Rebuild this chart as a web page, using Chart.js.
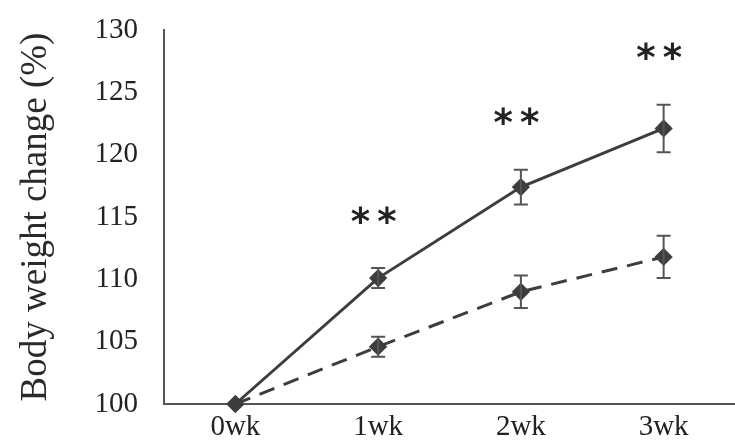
<!DOCTYPE html>
<html>
<head>
<meta charset="utf-8">
<script src="https://cdn.jsdelivr.net/npm/chart.js@4/dist/chart.umd.min.js"></script>
<style>
  html, body { margin: 0; padding: 0; background: #fff; }
  #wrap { width: 735px; height: 448px; }
</style>
</head>
<body>
<div id="wrap"><canvas id="c" width="735" height="448"></canvas></div>
<script>
// Weeks of observation
const weeks = ['0wk', '1wk', '2wk', '3wk'];
// Body weight relative to baseline (%), mean of each group
const groupA = [100, 110.1, 117.4, 122.1];
const groupB = [100, 104.6, 109.0, 111.8];
// Error (± SE) for each group
const errA = [0, 0.8, 1.4, 1.9];
const errB = [0, 0.8, 1.3, 1.7];
// Significance markers above group A
const marks = ['', '**', '**', '**'];
// Y axis range and step
const yMin = 100, yMax = 130, yStep = 5;

const ink = '#3d3d3d';
const serif = "'Liberation Serif', 'DejaVu Serif', serif";

const errorBars = {
  id: 'errorBars',
  afterDatasetsDraw(chart) {
    const ctx = chart.ctx;
    const x = chart.scales.x, y = chart.scales.y;
    const sets = [[groupA, errA], [groupB, errB]];
    ctx.save();
    ctx.strokeStyle = '#555';
    ctx.lineWidth = 2;
    sets.forEach(([vals, errs]) => {
      vals.forEach((v, i) => {
        if (!errs[i]) return;
        const px = x.getPixelForValue(i);
        const top = y.getPixelForValue(v + errs[i]);
        const bot = y.getPixelForValue(v - errs[i]);
        ctx.beginPath();
        ctx.moveTo(px, top); ctx.lineTo(px, bot);
        ctx.moveTo(px - 7, top); ctx.lineTo(px + 7, top);
        ctx.moveTo(px - 7, bot); ctx.lineTo(px + 7, bot);
        ctx.stroke();
      });
    });
    // significance stars above upper error bar of group A
    ctx.fillStyle = '#222';
    ctx.font = 'bold 37px "DejaVu Sans", sans-serif';
    ctx.letterSpacing = '7px';
    ctx.textAlign = 'center';
    ctx.textBaseline = 'middle';
    marks.forEach((m, i) => {
      if (!m) return;
      const px = x.getPixelForValue(i);
      const top = y.getPixelForValue(groupA[i] + errA[i]);
      ctx.fillText(m, px - 1, top - 44);
    });
    ctx.restore();
  }
};

new Chart(document.getElementById('c'), {
  type: 'line',
  data: {
    labels: weeks,
    datasets: [
      {
        label: 'A',
        data: groupA,
        borderColor: ink,
        backgroundColor: ink,
        borderWidth: 3,
        pointStyle: 'rectRot',
        pointRadius: 7,
        pointBackgroundColor: ink,
        pointBorderColor: ink,
        tension: 0,
        clip: false
      },
      {
        label: 'B',
        data: groupB,
        borderColor: ink,
        backgroundColor: ink,
        borderWidth: 3,
        borderDash: [16, 10],
        pointStyle: 'rectRot',
        pointRadius: 7,
        pointBackgroundColor: ink,
        pointBorderColor: ink,
        tension: 0,
        clip: false
      }
    ]
  },
  options: {
    responsive: false,
    animation: false,
    devicePixelRatio: 1,
    layout: { autoPadding: false, padding: { top: 30, right: 0, left: 0, bottom: 0 } },
    plugins: {
      legend: { display: false },
      tooltip: { enabled: false }
    },
    scales: {
      x: {
        offset: true,
        grid: { display: false, drawTicks: false },
        border: { display: true, color: '#555', width: 2 },
        ticks: {
          color: '#222',
          font: { family: serif, size: 29 },
          padding: 6
        },
        afterFit(s) { s.height = 44; s.paddingLeft = 0; s.paddingRight = 0; }
      },
      y: {
        min: yMin,
        max: yMax,
        grid: { display: false, drawTicks: false },
        border: { display: true, color: '#555', width: 2 },
        ticks: {
          stepSize: yStep,
          color: '#222',
          font: { family: serif, size: 29 },
          padding: 26
        },
        title: {
          display: true,
          text: 'Body weight change (%)',
          color: '#2a2a2a',
          font: { family: serif, size: 37 },
          padding: { top: 14, bottom: 0 }
        },
        afterFit(s) { s.width = 164; s.paddingTop = 0; s.paddingBottom = 0; }
      }
    }
  },
  plugins: [errorBars]
});
</script>
</body>
</html>
